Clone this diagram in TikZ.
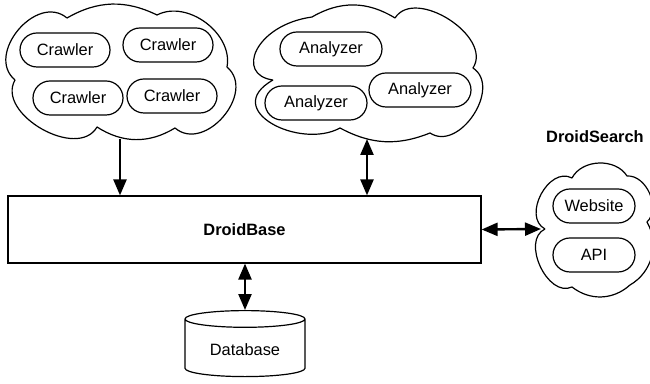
\documentclass[tikz,border=0pt]{standalone}
\usepackage{fontspec}
\setmainfont{Liberation Sans}
\usetikzlibrary{shapes.geometric,shapes.misc,arrows.meta}

\begin{document}
\begin{tikzpicture}[
    x=0.5pt, y=-0.5pt,
    every node/.style={font=\fontsize{8.2}{10}\selectfont},
    pod/.style={draw, rounded rectangle, line width=0.6pt, minimum width=45pt, minimum height=17pt, inner sep=0pt},
    puff/.style={draw, line width=0.6pt, line join=round},
    arr/.style={line width=1.2pt, -{Triangle[length=8pt,width=6.5pt]}},
    darr/.style={line width=1.2pt, {Triangle[length=8pt,width=6.5pt]}-{Triangle[length=8pt,width=6.5pt]}}
]
\useasboundingbox (0,0) rectangle (650,384);
% clouds
\draw[puff] (15,80) to[bend left=90, looseness=1.25] (67,18) to[bend left=28] (157,15)
    to[bend left=64] (227,67) to[bend left=90, looseness=1.25] (175,128)
    to[bend left=32] (97,127) to[bend left=90, looseness=1.05] (15,80);
\draw[puff] (273,80) .. controls (235,75) and (255,25) .. (312,17) to[bend left=31] (395,18)
    to[bend left=90, looseness=1.03] (473,68) to[bend left=90, looseness=1.15] (430,133)
    to[bend left=25] (340,128) .. controls (300,150) and (220,110) .. (273,80);
\draw[puff] (545,229) to[bend left=90, looseness=1.17] (572,178) to[bend left=60] (627,176)
    to[bend left=70] (647,222) to[bend left=45] (630,285) to[bend left=40] (572,287)
    to[bend left=90, looseness=1.07] (545,229);
\coordinate (crawlbot) at (120,139);
\coordinate (anabot) at (367,139);
\coordinate (searchin) at (541,229);
% crawlers
\node[pod] (c1) at (65,50) {Crawler};
\node[pod] (c2) at (168,45) {Crawler};
\node[pod] (c3) at (78,98) {Crawler};
\node[pod] (c4) at (172,96) {Crawler};
% analyzers
\node[pod, minimum width=51pt] (a1) at (331,49) {Analyzer};
\node[pod, minimum width=51pt] (a2) at (316,103) {Analyzer};
\node[pod, minimum width=51pt] (a3) at (420,90) {Analyzer};
% search
\node[font=\fontsize{8.2}{10}\selectfont\bfseries] (searchlbl) at (595,137) {DroidSearch};
\node[pod, minimum width=41pt] (web) at (594,206) {Website};
\node[pod, minimum width=41pt] (api) at (594,255) {API};
% base and database
\node[draw, line width=0.6pt, minimum width=236.5pt, minimum height=33.5pt, font=\fontsize{8.2}{10}\selectfont\bfseries] (base) at (244.5,229.5) {DroidBase};
\node[draw, cylinder, shape border rotate=90, aspect=0.2, line width=0.6pt, minimum width=60pt, minimum height=33pt] (db) at (245,350) {Database};
% links
\draw[arr] (crawlbot) -- (crawlbot |- base.north);
\draw[darr] (anabot) -- (anabot |- base.north);
\draw[darr] (base.south -| db.north) -- (db.north);
\draw[darr] (base.east) -- (searchin);
\end{tikzpicture}
\end{document}
